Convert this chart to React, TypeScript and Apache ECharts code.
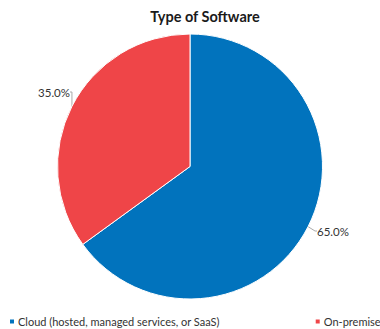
import React, { useEffect, useRef } from "react";
import * as echarts from "echarts";

const categories = ["Cloud (hosted, managed services, or SaaS)", "On-premise"];
const values = [65.0, 35.0];
const colors = ["#0173BD", "#EF4548"];

export default function App() {
  const ref = useRef<HTMLDivElement>(null);
  useEffect(() => {
    const chart = echarts.init(ref.current!, null, { renderer: "svg" });
    chart.setOption({
      animation: false,
      title: {
        text: "Type of Software",
        left: 200,
        top: 4,
        textAlign: "center",
        textStyle: { fontFamily: "Lato", fontWeight: "bold", fontSize: 14.5, color: "#1a1a1a" },
      },
      legend: {
        data: categories,
        left: 8,
        top: 316,
        width: 600,
        padding: 0,
        itemWidth: 6,
        itemHeight: 6,
        itemGap: 94,
        icon: "rect",
        textStyle: { fontFamily: "Lato", fontSize: 11, color: "#333", padding: [0, 0, 0, -2] },
      },
      series: [
        {
          type: "pie",
          center: [190, 166.5],
          radius: [0, 132.5],
          startAngle: 90,
          clockwise: true,
          data: categories.map((c, i) => ({ name: c, value: values[i], itemStyle: { color: colors[i] } })),
          itemStyle: { borderColor: "#fff", borderWidth: 1 },
          label: {
            show: true,
            formatter: (p: any) => p.value.toFixed(1) + "%",
            fontFamily: "Lato",
            fontSize: 11.5,
            color: "#333",
          },
          labelLayout: (p: any) =>
            p.dataIndex === 1
              ? { x: 70, y: 92, align: "right", verticalAlign: "middle" }
              : { x: 317, y: 231, align: "left", verticalAlign: "middle" },
          labelLine: { show: true, length: 4, length2: 2, lineStyle: { color: "#aaa", width: 1 } },
        },
      ],
    });
    return () => chart.dispose();
  }, []);
  return <div ref={ref} style={{ position: "fixed", left: 0, top: 0, width: 380, height: 329, background: "#fff" }} />;
}
